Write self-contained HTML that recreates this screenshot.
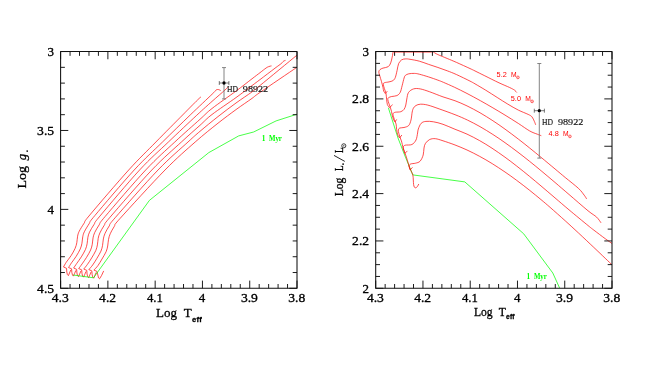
<!DOCTYPE html>
<html><head><meta charset="utf-8"><title>HD 98922 evolutionary tracks</title>
<style>html,body{margin:0;padding:0;background:#fff;}body{width:645px;height:368px;overflow:hidden;font-family:"Liberation Serif",serif;}svg text{white-space:pre;} .k text,text.k{stroke:#000;stroke-width:0.3px;}</style>
</head><body>
<svg width="645" height="368" viewBox="0 0 645 368" style="display:block;will-change:transform">
<rect width="645" height="368" fill="#fff"/>
<clipPath id="cl"><rect x="60.6" y="51.55" width="236.40" height="236.75"/></clipPath>
<clipPath id="cr"><rect x="375.7" y="51.55" width="236.30" height="236.75"/></clipPath>
<path d="M70.80,269.90 L69.50,273.00 L68.40,275.60 L67.40,274.60 L66.80,272.00 L66.50,268.30 L63.50,267.00" fill="none" stroke="#ff0000" stroke-width="0.7" stroke-linejoin="round" stroke-linecap="butt" clip-path="url(#cl)"/>
<path d="M63.50,267.00 C63.95,266.22 64.95,264.17 66.20,262.30 C67.45,260.43 69.52,258.12 71.00,255.80 C72.48,253.48 74.13,250.58 75.10,248.40 C76.07,246.22 76.38,244.73 76.80,242.70 C77.22,240.67 77.20,238.10 77.60,236.20 C78.00,234.30 78.12,233.47 79.20,231.30 C80.28,229.13 82.33,225.92 84.10,223.20 C85.87,220.48 82.37,223.87 89.80,215.00 C97.23,206.13 117.68,182.17 128.70,170.00 C139.72,157.83 146.92,151.17 155.90,142.00 C164.88,132.83 175.67,122.00 182.60,115.00 C189.53,108.00 194.43,103.02 197.50,100.00 C200.57,96.98 200.42,97.42 201.00,96.90" fill="none" stroke="#ff0000" stroke-width="0.7" stroke-linejoin="round" stroke-linecap="butt" clip-path="url(#cl)"/>
<path d="M75.87,270.42 L74.57,273.52 L73.47,276.12 L72.47,275.12 L71.87,272.52 L71.57,268.82 L68.57,267.52" fill="none" stroke="#ff0000" stroke-width="0.7" stroke-linejoin="round" stroke-linecap="butt" clip-path="url(#cl)"/>
<path d="M68.57,267.52 C69.06,266.74 70.23,264.70 71.50,262.83 C72.77,260.97 74.71,258.65 76.17,256.33 C77.63,254.02 79.30,251.13 80.27,248.95 C81.23,246.77 81.54,245.28 81.95,243.25 C82.36,241.22 82.35,238.67 82.75,236.75 C83.15,234.83 83.30,233.89 84.37,231.72 C85.43,229.55 87.38,226.43 89.13,223.73 C90.88,221.04 87.36,224.51 94.87,215.55 C102.38,206.59 122.93,182.26 134.20,170.00 C145.47,157.74 153.17,151.17 162.50,142.00 C171.83,132.83 181.95,122.95 190.20,115.00 C198.45,107.05 207.87,98.27 212.00,94.30 C216.13,90.33 214.23,91.97 215.00,91.20 C215.77,90.43 216.00,89.97 216.60,89.70 C217.20,89.43 217.92,89.47 218.60,89.60 C219.28,89.73 220.35,90.35 220.70,90.50" fill="none" stroke="#ff0000" stroke-width="0.7" stroke-linejoin="round" stroke-linecap="butt" clip-path="url(#cl)"/>
<path d="M80.93,270.93 L79.63,274.03 L78.53,276.63 L77.53,275.63 L76.93,273.03 L76.63,269.33 L73.63,268.03" fill="none" stroke="#ff0000" stroke-width="0.7" stroke-linejoin="round" stroke-linecap="butt" clip-path="url(#cl)"/>
<path d="M73.63,268.03 C74.16,267.26 75.52,265.23 76.80,263.37 C78.08,261.51 79.89,259.18 81.33,256.87 C82.77,254.56 84.47,251.68 85.43,249.50 C86.39,247.32 86.69,245.83 87.10,243.80 C87.51,241.77 87.49,239.24 87.90,237.30 C88.31,235.36 88.49,234.31 89.53,232.13 C90.58,229.96 92.43,226.94 94.17,224.27 C95.90,221.59 92.36,225.14 99.93,216.10 C107.51,207.06 128.19,182.35 139.60,170.00 C151.01,157.65 158.88,151.12 168.40,142.00 C177.92,132.88 189.43,122.07 196.70,115.30 C203.97,108.53 207.28,105.62 212.00,101.40 C216.72,97.18 222.33,92.43 225.00,90.00 C227.67,87.57 227.50,87.33 228.00,86.80" fill="none" stroke="#ff0000" stroke-width="0.7" stroke-linejoin="round" stroke-linecap="butt" clip-path="url(#cl)"/>
<path d="M86.00,271.45 L84.70,274.55 L83.60,277.15 L82.60,276.15 L82.00,273.55 L81.70,269.85 L78.70,268.55" fill="none" stroke="#ff0000" stroke-width="0.7" stroke-linejoin="round" stroke-linecap="butt" clip-path="url(#cl)"/>
<path d="M78.70,268.55 C79.27,267.77 80.80,265.76 82.10,263.90 C83.40,262.04 85.08,259.71 86.50,257.40 C87.92,255.09 89.64,252.23 90.60,250.05 C91.56,247.88 91.84,246.38 92.25,244.35 C92.66,242.32 92.64,239.82 93.05,237.85 C93.46,235.88 93.68,234.73 94.70,232.55 C95.72,230.38 97.48,227.45 99.20,224.80 C100.92,222.15 97.25,225.78 105.00,216.65 C112.75,207.52 134.07,182.44 145.70,170.00 C157.33,157.56 165.75,150.45 174.80,142.00 C183.85,133.55 193.80,124.88 200.00,119.30 C206.20,113.72 206.00,113.20 212.00,108.50 C218.00,103.80 229.33,96.05 236.00,91.10 C242.67,86.15 248.00,81.87 252.00,78.80 C256.00,75.73 257.65,74.50 260.00,72.70 C262.35,70.90 264.60,69.03 266.10,68.00 C267.60,66.97 268.10,66.85 269.00,66.50 C269.90,66.15 271.08,66.00 271.50,65.90" fill="none" stroke="#ff0000" stroke-width="0.7" stroke-linejoin="round" stroke-linecap="butt" clip-path="url(#cl)"/>
<path d="M91.07,271.97 L89.77,275.07 L88.67,277.67 L87.67,276.67 L87.07,274.07 L86.77,270.37 L83.77,269.07" fill="none" stroke="#ff0000" stroke-width="0.7" stroke-linejoin="round" stroke-linecap="butt" clip-path="url(#cl)"/>
<path d="M83.77,269.07 C84.37,268.29 86.08,266.29 87.40,264.43 C88.72,262.58 90.27,260.24 91.67,257.93 C93.06,255.63 94.81,252.77 95.77,250.60 C96.72,248.43 96.99,246.93 97.40,244.90 C97.81,242.87 97.79,240.39 98.20,238.40 C98.61,236.41 98.86,235.14 99.87,232.97 C100.87,230.79 102.53,227.96 104.23,225.33 C105.93,222.71 102.14,226.42 110.07,217.20 C117.99,207.98 139.91,182.53 151.80,170.00 C163.69,157.47 173.37,149.45 181.40,142.00 C189.43,134.55 194.90,129.88 200.00,125.30 C205.10,120.72 206.00,119.12 212.00,114.50 C218.00,109.88 229.33,102.42 236.00,97.60 C242.67,92.78 248.00,88.60 252.00,85.60 C256.00,82.60 256.17,82.50 260.00,79.60 C263.83,76.70 271.45,70.88 275.00,68.20 C278.55,65.52 279.88,64.67 281.30,63.50 C282.72,62.33 282.80,61.72 283.50,61.20 C284.20,60.68 285.17,60.53 285.50,60.40" fill="none" stroke="#ff0000" stroke-width="0.7" stroke-linejoin="round" stroke-linecap="butt" clip-path="url(#cl)"/>
<path d="M96.13,272.48 L94.83,275.58 L93.73,278.18 L92.73,277.18 L92.13,274.58 L91.83,270.88 L88.83,269.58" fill="none" stroke="#ff0000" stroke-width="0.7" stroke-linejoin="round" stroke-linecap="butt" clip-path="url(#cl)"/>
<path d="M88.83,269.58 C89.48,268.81 91.37,266.82 92.70,264.97 C94.03,263.11 95.46,260.77 96.83,258.47 C98.21,256.16 99.98,253.32 100.93,251.15 C101.89,248.98 102.15,247.48 102.55,245.45 C102.95,243.42 102.94,240.96 103.35,238.95 C103.76,236.94 104.05,235.56 105.03,233.38 C106.02,231.20 107.58,228.47 109.27,225.87 C110.95,223.26 107.01,227.06 115.13,217.75 C123.26,208.44 145.86,182.62 158.00,170.00 C170.14,157.38 181.00,148.45 188.00,142.00 C195.00,135.55 195.00,135.53 200.00,131.30 C205.00,127.07 212.00,121.32 218.00,116.60 C224.00,111.88 230.33,107.12 236.00,103.00 C241.67,98.88 248.00,94.82 252.00,91.90 C256.00,88.98 252.52,91.62 260.00,85.50 C267.48,79.38 290.75,60.25 296.90,55.20" fill="none" stroke="#ff0000" stroke-width="0.7" stroke-linejoin="round" stroke-linecap="butt" clip-path="url(#cl)"/>
<path d="M103.70,270.90 L101.50,275.60 L99.50,278.80 L98.50,277.90 L97.90,275.10 L96.80,271.30 L93.90,270.10" fill="none" stroke="#ff0000" stroke-width="0.7" stroke-linejoin="round" stroke-linecap="butt" clip-path="url(#cl)"/>
<path d="M93.90,270.10 C94.58,269.33 96.65,267.35 98.00,265.50 C99.35,263.65 100.65,261.30 102.00,259.00 C103.35,256.70 105.15,253.87 106.10,251.70 C107.05,249.53 107.30,248.03 107.70,246.00 C108.10,243.97 108.08,241.53 108.50,239.50 C108.92,237.47 109.23,235.98 110.20,233.80 C111.17,231.62 112.63,228.98 114.30,226.40 C115.97,223.82 111.75,227.70 120.20,218.30 C128.65,208.90 152.50,182.72 165.00,170.00 C177.50,157.28 186.37,149.80 195.20,142.00 C204.03,134.20 211.20,128.60 218.00,123.20 C224.80,117.80 230.33,113.73 236.00,109.60 C241.67,105.47 248.00,101.27 252.00,98.40 C256.00,95.53 252.52,97.58 260.00,92.40 C267.48,87.22 290.75,71.48 296.90,67.30" fill="none" stroke="#ff0000" stroke-width="0.7" stroke-linejoin="round" stroke-linecap="butt" clip-path="url(#cl)"/>
<path d="M73.10,275.00 L93.50,277.80 L149.40,200.40 L208.80,152.60 L238.70,135.90 L253.60,132.00 L276.10,120.90 L297.00,114.20" fill="none" stroke="#00ff00" stroke-width="0.72" stroke-linejoin="round" stroke-linecap="butt" />
<text x="261.8" y="141.0" font-size="7.4" text-anchor="start" fill="#00ff00" font-family="Liberation Serif, serif" font-weight="bold">1</text>
<text x="269.0" y="141.0" font-size="7.4" text-anchor="start" fill="#00ff00" font-family="Liberation Serif, serif" textLength="12.9" lengthAdjust="spacingAndGlyphs" font-weight="bold">Myr</text>
<path d="M224.0,67.6 V98.9 M222.0,67.6 h4 M222.0,98.9 h4" stroke="#777" stroke-width="0.9" fill="none"/>
<path d="M219.3,83.0 H228.9 M219.3,81.0 v4 M228.9,81.0 v4" stroke="#222" stroke-width="0.6" fill="none"/>
<circle cx="224.0" cy="83.0" r="1.65" fill="#000"/>
<text x="227.0" y="91.5" font-size="9.0" text-anchor="start" fill="#111" font-family="Liberation Serif, serif" textLength="11.0" lengthAdjust="spacingAndGlyphs" stroke="#111" stroke-width="0.15">HD</text>
<text x="242.8" y="91.5" font-size="9.0" text-anchor="start" fill="#111" font-family="Liberation Serif, serif" textLength="25.4" lengthAdjust="spacingAndGlyphs" stroke="#111" stroke-width="0.15">98922</text>
<path d="M388.40,107.80 L391.60,118.00 L398.00,138.00 L404.60,155.00 L412.80,174.90 L464.80,181.90 L523.70,233.80 L552.80,273.00 L559.60,288.00" fill="none" stroke="#00ff00" stroke-width="0.72" stroke-linejoin="round" stroke-linecap="butt" />
<path d="M387.30,91.20 L385.30,93.50 M385.30,93.50 C385.03,93.10 384.08,92.08 383.70,91.10 C383.32,90.12 383.37,89.18 383.00,87.60 C382.63,86.02 382.05,83.60 381.50,81.60 C380.95,79.60 380.15,77.22 379.70,75.60 C379.25,73.98 378.75,72.90 378.80,71.90 C378.85,70.90 379.30,70.23 380.00,69.60 C380.70,68.97 381.63,68.58 383.00,68.10 C384.37,67.62 386.92,67.57 388.20,66.70 C389.48,65.83 390.03,64.52 390.70,62.90 C391.37,61.28 391.80,58.88 392.20,57.00 C392.60,55.12 392.95,52.50 393.10,51.60" fill="none" stroke="#ff0000" stroke-width="0.7" stroke-linejoin="round" stroke-linecap="butt" clip-path="url(#cr)"/>
<path d="M432.80,51.70 C433.65,52.18 435.50,53.46 437.90,54.58 C440.30,55.71 444.10,57.16 447.20,58.47 C450.30,59.77 452.70,60.74 456.50,62.42 C460.30,64.10 466.92,67.13 470.00,68.55 C473.08,69.97 472.53,69.74 475.00,70.95 C477.47,72.16 480.80,73.83 484.80,75.81 C488.80,77.79 494.87,80.87 499.00,82.82 C503.13,84.77 507.00,86.27 509.60,87.50 C512.20,88.73 513.40,89.37 514.60,90.20 C515.80,91.03 516.43,92.12 516.80,92.50" fill="none" stroke="#ff0000" stroke-width="0.7" stroke-linejoin="round" stroke-linecap="butt" clip-path="url(#cr)"/>
<path d="M392.60,104.70 L389.50,107.70 M389.50,107.70 C389.15,107.18 387.88,106.02 387.40,104.60 C386.92,103.18 386.83,101.05 386.60,99.20 C386.37,97.35 386.37,95.27 386.00,93.50 C385.63,91.73 384.85,90.15 384.40,88.60 C383.95,87.05 383.28,85.18 383.30,84.20 C383.32,83.22 383.55,83.08 384.50,82.70 C385.45,82.32 387.58,82.25 389.00,81.90 C390.42,81.55 391.95,81.33 393.00,80.60 C394.05,79.87 394.62,79.20 395.30,77.50 C395.98,75.80 396.55,72.70 397.10,70.40 C397.65,68.10 397.85,65.45 398.60,63.70 C399.35,61.95 400.45,60.70 401.60,59.90 C402.75,59.10 404.10,59.00 405.50,58.90 C406.90,58.80 407.70,58.92 410.00,59.30 C412.30,59.68 416.20,60.32 419.30,61.16 C422.40,62.00 425.50,63.31 428.60,64.36 C431.70,65.40 434.80,66.39 437.90,67.46 C441.00,68.53 444.10,69.60 447.20,70.79 C450.30,71.97 452.70,72.85 456.50,74.57 C460.30,76.29 466.92,79.55 470.00,81.10 C473.08,82.64 472.37,82.31 475.00,83.83 C477.63,85.36 482.10,87.97 485.80,90.24 C489.50,92.51 493.53,95.15 497.20,97.46 C500.87,99.78 504.28,102.03 507.80,104.13 C511.32,106.24 514.90,108.37 518.30,110.08 C521.70,111.80 525.92,113.28 528.20,114.42 C530.48,115.55 530.97,115.72 532.00,116.90 C533.03,118.08 533.78,120.17 534.40,121.50 C535.02,122.83 535.48,124.33 535.70,124.90" fill="none" stroke="#ff0000" stroke-width="0.7" stroke-linejoin="round" stroke-linecap="butt" clip-path="url(#cr)"/>
<path d="M396.70,119.40 L395.00,121.90 M395.00,121.90 C394.75,121.50 393.97,120.62 393.50,119.50 C393.03,118.38 392.53,116.55 392.20,115.20 C391.87,113.85 391.80,112.67 391.50,111.40 C391.20,110.13 390.82,108.87 390.40,107.60 C389.98,106.33 389.43,105.13 389.00,103.80 C388.57,102.47 387.88,100.62 387.80,99.60 C387.72,98.58 387.85,98.22 388.50,97.70 C389.15,97.18 390.30,96.85 391.70,96.50 C393.10,96.15 395.48,96.28 396.90,95.60 C398.32,94.92 399.33,94.03 400.20,92.40 C401.07,90.77 401.45,88.20 402.10,85.80 C402.75,83.40 403.55,79.73 404.10,78.00 C404.65,76.27 404.62,76.10 405.40,75.40 C406.18,74.70 407.28,74.13 408.80,73.80 C410.32,73.47 412.75,73.33 414.50,73.40 C416.25,73.47 416.95,73.61 419.30,74.20 C421.65,74.79 425.50,75.94 428.60,76.93 C431.70,77.92 435.42,79.24 437.90,80.15 C440.38,81.05 440.72,81.18 443.50,82.37 C446.28,83.56 450.68,85.46 454.60,87.31 C458.52,89.15 462.68,91.23 467.00,93.47 C471.32,95.71 476.18,98.36 480.50,100.75 C484.82,103.15 488.82,105.46 492.90,107.85 C496.98,110.24 500.77,112.50 505.00,115.09 C509.23,117.69 514.18,120.79 518.30,123.43 C522.42,126.07 526.53,129.16 529.70,130.96 C532.87,132.75 535.37,133.41 537.30,134.20 C539.23,134.99 540.63,135.45 541.30,135.70" fill="none" stroke="#ff0000" stroke-width="0.7" stroke-linejoin="round" stroke-linecap="butt" clip-path="url(#cr)"/>
<path d="M401.90,135.00 L399.60,137.90 M399.60,137.90 C399.28,137.38 398.20,136.22 397.70,134.80 C397.20,133.38 396.87,131.18 396.60,129.40 C396.33,127.62 396.48,125.78 396.10,124.10 C395.72,122.42 394.82,120.92 394.30,119.30 C393.78,117.68 393.12,115.45 393.00,114.40 C392.88,113.35 393.17,113.37 393.60,113.00 C394.03,112.63 394.40,112.42 395.60,112.20 C396.80,111.98 399.38,112.18 400.80,111.70 C402.22,111.22 403.27,110.42 404.10,109.30 C404.93,108.18 405.35,106.72 405.80,105.00 C406.25,103.28 406.35,101.08 406.80,99.00 C407.25,96.92 407.37,94.18 408.50,92.50 C409.63,90.82 411.65,89.50 413.60,88.90 C415.55,88.30 417.52,88.42 420.20,88.90 C422.88,89.38 425.90,90.47 429.70,91.80 C433.50,93.13 438.78,95.40 443.00,96.89 C447.22,98.38 451.00,99.24 455.00,100.74 C459.00,102.24 462.83,103.89 467.00,105.90 C471.17,107.90 475.68,110.31 480.00,112.78 C484.32,115.26 488.73,118.04 492.90,120.76 C497.07,123.48 500.77,126.06 505.00,129.11 C509.23,132.15 514.18,135.89 518.30,139.05 C522.42,142.21 525.90,145.00 529.70,148.06 C533.50,151.11 536.88,153.89 541.10,157.37 C545.32,160.85 550.98,165.60 555.00,168.95 C559.02,172.30 561.28,174.22 565.20,177.47 C569.12,180.71 575.33,185.47 578.50,188.42 C581.67,191.38 582.83,193.44 584.20,195.20 C585.57,196.96 586.28,198.37 586.70,199.00" fill="none" stroke="#ff0000" stroke-width="0.7" stroke-linejoin="round" stroke-linecap="butt" clip-path="url(#cr)"/>
<path d="M407.40,150.90 L404.90,153.40 M404.90,153.40 C404.65,152.67 403.83,150.48 403.40,149.00 C402.97,147.52 402.63,145.85 402.30,144.50 C401.97,143.15 401.80,142.15 401.40,140.90 C401.00,139.65 400.33,138.28 399.90,137.00 C399.47,135.72 399.07,134.38 398.80,133.20 C398.53,132.02 398.13,130.77 398.30,129.90 C398.47,129.03 398.85,128.40 399.80,128.00 C400.75,127.60 402.52,127.92 404.00,127.50 C405.48,127.08 407.53,126.75 408.70,125.50 C409.87,124.25 410.42,122.25 411.00,120.00 C411.58,117.75 411.78,114.00 412.20,112.00 C412.62,110.00 412.87,109.08 413.50,108.00 C414.13,106.92 414.83,106.13 416.00,105.50 C417.17,104.87 418.53,104.27 420.50,104.20 C422.47,104.13 424.68,104.32 427.80,105.10 C430.92,105.88 434.67,107.30 439.20,108.90 C443.73,110.50 450.30,112.84 455.00,114.69 C459.70,116.55 463.23,118.05 467.40,120.04 C471.57,122.03 475.75,124.24 480.00,126.64 C484.25,129.05 488.73,131.81 492.90,134.48 C497.07,137.15 500.82,139.71 505.00,142.68 C509.18,145.64 513.88,149.13 518.00,152.25 C522.12,155.38 525.85,158.34 529.70,161.42 C533.55,164.50 536.88,167.23 541.10,170.74 C545.32,174.24 550.35,178.50 555.00,182.45 C559.65,186.41 563.50,189.75 569.00,194.46 C574.50,199.18 583.40,206.97 588.00,210.75 C592.60,214.52 594.43,215.09 596.60,217.10 C598.77,219.11 600.27,221.85 601.00,222.80" fill="none" stroke="#ff0000" stroke-width="0.7" stroke-linejoin="round" stroke-linecap="butt" clip-path="url(#cr)"/>
<path d="M412.50,167.30 L410.10,170.00 M410.10,170.00 C409.85,169.10 409.22,166.75 408.60,164.60 C407.98,162.45 407.12,159.33 406.40,157.10 C405.68,154.87 404.83,152.85 404.30,151.20 C403.77,149.55 403.05,148.20 403.20,147.20 C403.35,146.20 403.75,145.65 405.20,145.20 C406.65,144.75 410.10,145.37 411.90,144.50 C413.70,143.63 415.05,141.92 416.00,140.00 C416.95,138.08 417.22,134.83 417.60,133.00 C417.98,131.17 417.70,130.62 418.30,129.00 C418.90,127.38 419.93,124.57 421.20,123.30 C422.47,122.03 423.85,121.65 425.90,121.40 C427.95,121.15 430.65,121.32 433.50,121.80 C436.35,122.28 439.42,123.06 443.00,124.30 C446.58,125.54 451.00,127.62 455.00,129.26 C459.00,130.90 462.88,132.22 467.00,134.12 C471.12,136.02 475.53,138.32 479.70,140.67 C483.87,143.01 487.78,145.43 492.00,148.19 C496.22,150.95 500.88,154.22 505.00,157.20 C509.12,160.17 512.58,162.83 516.70,166.05 C520.82,169.26 525.65,173.18 529.70,176.50 C533.75,179.82 536.78,182.38 541.00,185.95 C545.22,189.51 550.33,193.90 555.00,197.88 C559.67,201.86 563.50,205.21 569.00,209.82 C574.50,214.42 583.87,222.13 588.00,225.51 C592.13,228.88 590.93,227.89 593.80,230.08 C596.67,232.28 602.13,236.41 605.20,238.67 C608.27,240.93 611.03,242.79 612.20,243.62" fill="none" stroke="#ff0000" stroke-width="0.7" stroke-linejoin="round" stroke-linecap="butt" clip-path="url(#cr)"/>
<path d="M418.80,184.00 C418.55,184.43 417.80,185.97 417.30,186.60 C416.80,187.23 416.28,187.70 415.80,187.80 C415.32,187.90 414.77,187.75 414.40,187.20 C414.03,186.65 413.78,185.70 413.60,184.50 C413.42,183.30 413.43,181.62 413.30,180.00 C413.17,178.38 413.23,176.42 412.80,174.80 C412.37,173.18 411.32,171.73 410.70,170.30 C410.08,168.87 409.12,167.25 409.10,166.20 C409.08,165.15 409.53,164.50 410.60,164.00 C411.67,163.50 413.92,163.67 415.50,163.20 C417.08,162.73 418.82,162.57 420.10,161.20 C421.38,159.83 422.55,157.20 423.20,155.00 C423.85,152.80 423.62,149.95 424.00,148.00 C424.38,146.05 424.55,144.72 425.50,143.30 C426.45,141.88 428.05,140.27 429.70,139.50 C431.35,138.73 433.18,138.48 435.40,138.70 C437.62,138.92 439.73,139.75 443.00,140.80 C446.27,141.85 451.00,143.44 455.00,144.97 C459.00,146.51 462.88,148.09 467.00,149.99 C471.12,151.89 475.50,154.10 479.70,156.38 C483.90,158.65 487.98,161.04 492.20,163.64 C496.42,166.25 500.92,169.21 505.00,172.00 C509.08,174.78 512.58,177.30 516.70,180.36 C520.82,183.42 525.65,187.16 529.70,190.37 C533.75,193.58 537.62,196.80 541.00,199.62 C544.38,202.43 545.97,203.76 550.00,207.29 C554.03,210.81 560.45,216.48 565.20,220.76 C569.95,225.05 573.73,228.55 578.50,232.99 C583.27,237.42 589.35,243.18 593.80,247.39 C598.25,251.60 602.13,255.34 605.20,258.27 C608.27,261.20 611.03,263.85 612.20,264.97" fill="none" stroke="#ff0000" stroke-width="0.7" stroke-linejoin="round" stroke-linecap="butt" clip-path="url(#cr)"/>
<text x="526.6" y="278.8" font-size="7.4" text-anchor="start" fill="#00ff00" font-family="Liberation Serif, serif" font-weight="bold">1</text>
<text x="533.9" y="278.8" font-size="7.4" text-anchor="start" fill="#00ff00" font-family="Liberation Serif, serif" textLength="12.9" lengthAdjust="spacingAndGlyphs" font-weight="bold">Myr</text>
<path d="M539.3,63.5 V158.1 M537.3,63.5 h4 M537.3,158.1 h4" stroke="#777" stroke-width="0.9" fill="none"/>
<path d="M534.3,110.7 H544.4 M534.3,108.7 v4 M544.4,108.7 v4" stroke="#222" stroke-width="0.6" fill="none"/>
<circle cx="539.3" cy="110.7" r="1.65" fill="#000"/>
<text x="542.0" y="125.0" font-size="9.0" text-anchor="start" fill="#111" font-family="Liberation Serif, serif" textLength="11.0" lengthAdjust="spacingAndGlyphs" stroke="#111" stroke-width="0.15">HD</text>
<text x="557.9" y="125.0" font-size="9.0" text-anchor="start" fill="#111" font-family="Liberation Serif, serif" textLength="25.4" lengthAdjust="spacingAndGlyphs" stroke="#111" stroke-width="0.15">98922</text>
<text x="496.6" y="77.0" font-size="7.3" fill="#ff0000" font-family="Liberation Sans, sans-serif">5.2</text>
<text x="511.0" y="77.0" font-size="7.3" fill="#ff0000" font-family="Liberation Sans, sans-serif" textLength="5.6" lengthAdjust="spacingAndGlyphs">M</text>
<circle cx="517.9" cy="77.4" r="1.35" fill="none" stroke="#ff0000" stroke-width="0.6"/><circle cx="517.9" cy="77.4" r="0.45" fill="#ff0000"/>
<text x="510.8" y="101.0" font-size="7.3" fill="#ff0000" font-family="Liberation Sans, sans-serif">5.0</text>
<text x="525.2" y="101.0" font-size="7.3" fill="#ff0000" font-family="Liberation Sans, sans-serif" textLength="5.6" lengthAdjust="spacingAndGlyphs">M</text>
<circle cx="532.1" cy="101.4" r="1.35" fill="none" stroke="#ff0000" stroke-width="0.6"/><circle cx="532.1" cy="101.4" r="0.45" fill="#ff0000"/>
<text x="548.6" y="136.0" font-size="7.3" fill="#ff0000" font-family="Liberation Sans, sans-serif">4.8</text>
<text x="563.0" y="136.0" font-size="7.3" fill="#ff0000" font-family="Liberation Sans, sans-serif" textLength="5.6" lengthAdjust="spacingAndGlyphs">M</text>
<circle cx="569.9" cy="136.4" r="1.35" fill="none" stroke="#ff0000" stroke-width="0.6"/><circle cx="569.9" cy="136.4" r="0.45" fill="#ff0000"/>
<rect x="60.6" y="51.55" width="236.40" height="236.75" fill="none" stroke="#111" stroke-width="1.05" stroke-linejoin="round"/>
<path d="M60.60,51.55 v7.7 M60.60,288.3 v-7.7 M70.06,51.55 v4.3 M70.06,288.3 v-4.3 M79.51,51.55 v4.3 M79.51,288.3 v-4.3 M88.97,51.55 v4.3 M88.97,288.3 v-4.3 M98.42,51.55 v4.3 M98.42,288.3 v-4.3 M107.88,51.55 v7.7 M107.88,288.3 v-7.7 M117.34,51.55 v4.3 M117.34,288.3 v-4.3 M126.79,51.55 v4.3 M126.79,288.3 v-4.3 M136.25,51.55 v4.3 M136.25,288.3 v-4.3 M145.70,51.55 v4.3 M145.70,288.3 v-4.3 M155.16,51.55 v7.7 M155.16,288.3 v-7.7 M164.62,51.55 v4.3 M164.62,288.3 v-4.3 M174.07,51.55 v4.3 M174.07,288.3 v-4.3 M183.53,51.55 v4.3 M183.53,288.3 v-4.3 M192.98,51.55 v4.3 M192.98,288.3 v-4.3 M202.44,51.55 v7.7 M202.44,288.3 v-7.7 M211.90,51.55 v4.3 M211.90,288.3 v-4.3 M221.35,51.55 v4.3 M221.35,288.3 v-4.3 M230.81,51.55 v4.3 M230.81,288.3 v-4.3 M240.26,51.55 v4.3 M240.26,288.3 v-4.3 M249.72,51.55 v7.7 M249.72,288.3 v-7.7 M259.18,51.55 v4.3 M259.18,288.3 v-4.3 M268.63,51.55 v4.3 M268.63,288.3 v-4.3 M278.09,51.55 v4.3 M278.09,288.3 v-4.3 M287.54,51.55 v4.3 M287.54,288.3 v-4.3 M297.00,51.55 v7.7 M297.00,288.3 v-7.7 M60.6,51.55 h7.7 M297.0,51.55 h-7.7 M60.6,67.33 h4.3 M297.0,67.33 h-4.3 M60.6,83.12 h4.3 M297.0,83.12 h-4.3 M60.6,98.90 h4.3 M297.0,98.90 h-4.3 M60.6,114.68 h4.3 M297.0,114.68 h-4.3 M60.6,130.47 h7.7 M297.0,130.47 h-7.7 M60.6,146.25 h4.3 M297.0,146.25 h-4.3 M60.6,162.03 h4.3 M297.0,162.03 h-4.3 M60.6,177.82 h4.3 M297.0,177.82 h-4.3 M60.6,193.60 h4.3 M297.0,193.60 h-4.3 M60.6,209.38 h7.7 M297.0,209.38 h-7.7 M60.6,225.17 h4.3 M297.0,225.17 h-4.3 M60.6,240.95 h4.3 M297.0,240.95 h-4.3 M60.6,256.73 h4.3 M297.0,256.73 h-4.3 M60.6,272.52 h4.3 M297.0,272.52 h-4.3 M60.6,288.30 h7.7 M297.0,288.30 h-7.7 " fill="none" stroke="#111" stroke-width="0.95"/>
<rect x="375.7" y="51.55" width="236.30" height="236.75" fill="none" stroke="#111" stroke-width="1.05" stroke-linejoin="round"/>
<path d="M375.70,51.55 v7.7 M375.70,288.3 v-7.7 M385.15,51.55 v4.3 M385.15,288.3 v-4.3 M394.60,51.55 v4.3 M394.60,288.3 v-4.3 M404.06,51.55 v4.3 M404.06,288.3 v-4.3 M413.51,51.55 v4.3 M413.51,288.3 v-4.3 M422.96,51.55 v7.7 M422.96,288.3 v-7.7 M432.41,51.55 v4.3 M432.41,288.3 v-4.3 M441.86,51.55 v4.3 M441.86,288.3 v-4.3 M451.32,51.55 v4.3 M451.32,288.3 v-4.3 M460.77,51.55 v4.3 M460.77,288.3 v-4.3 M470.22,51.55 v7.7 M470.22,288.3 v-7.7 M479.67,51.55 v4.3 M479.67,288.3 v-4.3 M489.12,51.55 v4.3 M489.12,288.3 v-4.3 M498.58,51.55 v4.3 M498.58,288.3 v-4.3 M508.03,51.55 v4.3 M508.03,288.3 v-4.3 M517.48,51.55 v7.7 M517.48,288.3 v-7.7 M526.93,51.55 v4.3 M526.93,288.3 v-4.3 M536.38,51.55 v4.3 M536.38,288.3 v-4.3 M545.84,51.55 v4.3 M545.84,288.3 v-4.3 M555.29,51.55 v4.3 M555.29,288.3 v-4.3 M564.74,51.55 v7.7 M564.74,288.3 v-7.7 M574.19,51.55 v4.3 M574.19,288.3 v-4.3 M583.64,51.55 v4.3 M583.64,288.3 v-4.3 M593.10,51.55 v4.3 M593.10,288.3 v-4.3 M602.55,51.55 v4.3 M602.55,288.3 v-4.3 M612.00,51.55 v7.7 M612.00,288.3 v-7.7 M375.7,51.55 h7.7 M612.0,51.55 h-7.7 M375.7,63.39 h4.3 M612.0,63.39 h-4.3 M375.7,75.22 h4.3 M612.0,75.22 h-4.3 M375.7,87.06 h4.3 M612.0,87.06 h-4.3 M375.7,98.90 h7.7 M612.0,98.90 h-7.7 M375.7,110.74 h4.3 M612.0,110.74 h-4.3 M375.7,122.58 h4.3 M612.0,122.58 h-4.3 M375.7,134.41 h4.3 M612.0,134.41 h-4.3 M375.7,146.25 h7.7 M612.0,146.25 h-7.7 M375.7,158.09 h4.3 M612.0,158.09 h-4.3 M375.7,169.93 h4.3 M612.0,169.93 h-4.3 M375.7,181.76 h4.3 M612.0,181.76 h-4.3 M375.7,193.60 h7.7 M612.0,193.60 h-7.7 M375.7,205.44 h4.3 M612.0,205.44 h-4.3 M375.7,217.27 h4.3 M612.0,217.27 h-4.3 M375.7,229.11 h4.3 M612.0,229.11 h-4.3 M375.7,240.95 h7.7 M612.0,240.95 h-7.7 M375.7,252.79 h4.3 M612.0,252.79 h-4.3 M375.7,264.62 h4.3 M612.0,264.62 h-4.3 M375.7,276.46 h4.3 M612.0,276.46 h-4.3 M375.7,288.30 h7.7 M612.0,288.30 h-7.7 " fill="none" stroke="#111" stroke-width="0.95"/>
<path d="M393.6,52.349999999999994 H431.8" fill="none" stroke="#ff0000" stroke-width="0.45" stroke-linejoin="round" stroke-linecap="butt" />
<text class="k" x="51.80" y="302.4" font-size="11.8" text-anchor="start" fill="#000" font-family="Liberation Serif, serif" textLength="17.0" lengthAdjust="spacingAndGlyphs" >4.3</text>
<text class="k" x="366.90" y="302.4" font-size="11.8" text-anchor="start" fill="#000" font-family="Liberation Serif, serif" textLength="17.0" lengthAdjust="spacingAndGlyphs" >4.3</text>
<text class="k" x="99.08" y="302.4" font-size="11.8" text-anchor="start" fill="#000" font-family="Liberation Serif, serif" textLength="17.0" lengthAdjust="spacingAndGlyphs" >4.2</text>
<text class="k" x="414.16" y="302.4" font-size="11.8" text-anchor="start" fill="#000" font-family="Liberation Serif, serif" textLength="17.0" lengthAdjust="spacingAndGlyphs" >4.2</text>
<text class="k" x="146.91" y="302.4" font-size="11.8" text-anchor="start" fill="#000" font-family="Liberation Serif, serif" textLength="15.9" lengthAdjust="spacingAndGlyphs" >4.1</text>
<text class="k" x="461.97" y="302.4" font-size="11.8" text-anchor="start" fill="#000" font-family="Liberation Serif, serif" textLength="15.9" lengthAdjust="spacingAndGlyphs" >4.1</text>
<text class="k" x="198.89" y="302.4" font-size="11.8" text-anchor="start" fill="#000" font-family="Liberation Serif, serif" textLength="6.5" lengthAdjust="spacingAndGlyphs" >4</text>
<text class="k" x="513.93" y="302.4" font-size="11.8" text-anchor="start" fill="#000" font-family="Liberation Serif, serif" textLength="6.5" lengthAdjust="spacingAndGlyphs" >4</text>
<text class="k" x="240.92" y="302.4" font-size="11.8" text-anchor="start" fill="#000" font-family="Liberation Serif, serif" textLength="17.0" lengthAdjust="spacingAndGlyphs" >3.9</text>
<text class="k" x="555.94" y="302.4" font-size="11.8" text-anchor="start" fill="#000" font-family="Liberation Serif, serif" textLength="17.0" lengthAdjust="spacingAndGlyphs" >3.9</text>
<text class="k" x="288.20" y="302.4" font-size="11.8" text-anchor="start" fill="#000" font-family="Liberation Serif, serif" textLength="17.0" lengthAdjust="spacingAndGlyphs" >3.8</text>
<text class="k" x="603.20" y="302.4" font-size="11.8" text-anchor="start" fill="#000" font-family="Liberation Serif, serif" textLength="17.0" lengthAdjust="spacingAndGlyphs" >3.8</text>
<text class="k" x="47.60" y="55.85" font-size="11.8" text-anchor="start" fill="#000" font-family="Liberation Serif, serif" textLength="6.5" lengthAdjust="spacingAndGlyphs" >3</text>
<text class="k" x="37.10" y="134.77" font-size="11.8" text-anchor="start" fill="#000" font-family="Liberation Serif, serif" textLength="17.0" lengthAdjust="spacingAndGlyphs" >3.5</text>
<text class="k" x="47.60" y="213.68" font-size="11.8" text-anchor="start" fill="#000" font-family="Liberation Serif, serif" textLength="6.5" lengthAdjust="spacingAndGlyphs" >4</text>
<text class="k" x="37.10" y="292.60" font-size="11.8" text-anchor="start" fill="#000" font-family="Liberation Serif, serif" textLength="17.0" lengthAdjust="spacingAndGlyphs" >4.5</text>
<text class="k" x="362.60" y="55.85" font-size="11.8" text-anchor="start" fill="#000" font-family="Liberation Serif, serif" textLength="6.5" lengthAdjust="spacingAndGlyphs" >3</text>
<text class="k" x="352.10" y="103.20" font-size="11.8" text-anchor="start" fill="#000" font-family="Liberation Serif, serif" textLength="17.0" lengthAdjust="spacingAndGlyphs" >2.8</text>
<text class="k" x="352.10" y="150.55" font-size="11.8" text-anchor="start" fill="#000" font-family="Liberation Serif, serif" textLength="17.0" lengthAdjust="spacingAndGlyphs" >2.6</text>
<text class="k" x="352.10" y="197.90" font-size="11.8" text-anchor="start" fill="#000" font-family="Liberation Serif, serif" textLength="17.0" lengthAdjust="spacingAndGlyphs" >2.4</text>
<text class="k" x="352.10" y="245.25" font-size="11.8" text-anchor="start" fill="#000" font-family="Liberation Serif, serif" textLength="17.0" lengthAdjust="spacingAndGlyphs" >2.2</text>
<text class="k" x="362.60" y="292.60" font-size="11.8" text-anchor="start" fill="#000" font-family="Liberation Serif, serif" textLength="6.5" lengthAdjust="spacingAndGlyphs" >2</text>
<text class="k" x="156.1" y="317.4" font-size="13" font-family="Liberation Serif, serif" fill="#000">Log<tspan dx="6.6">T</tspan><tspan font-size="7.6" font-weight="bold" dy="4.2" dx="0.3" letter-spacing="0.25" font-family="Liberation Sans, sans-serif">eff</tspan></text>
<text class="k" x="473.9" y="316.1" font-size="11.6" font-family="Liberation Serif, serif" fill="#000">Log<tspan dx="6.2">T</tspan><tspan font-size="6.6" font-weight="bold" dy="3.2" dx="0.2" letter-spacing="0.2" font-family="Liberation Sans, sans-serif">eff</tspan></text>
<g class="k" transform="translate(26.3,188.6) rotate(-90)" font-family="Liberation Serif, serif" fill="#000"><text x="0.2" y="0" font-size="12.9" textLength="22.5" lengthAdjust="spacingAndGlyphs">Log</text><text x="28.4" y="0" font-size="12.9" font-style="italic">g</text><circle cx="37.5" cy="0.9" r="0.85"/></g>
<g class="k" transform="translate(342.9,196.8) rotate(-90)" font-family="Liberation Serif, serif" fill="#000"><text x="0.5" y="0" font-size="11.6">Log</text><text x="25.9" y="0" font-size="11.6" textLength="5.6" lengthAdjust="spacingAndGlyphs">L</text><circle cx="32.7" cy="0.2" r="0.9"/><path d="M35.4,1.9 L41.4,-8.9" stroke="#000" stroke-width="0.85" fill="none"/><text x="43.9" y="0" font-size="11.6" textLength="5.6" lengthAdjust="spacingAndGlyphs">L</text><circle cx="51.0" cy="0.9" r="2.05" fill="none" stroke="#000" stroke-width="0.75"/><circle cx="51.0" cy="0.9" r="0.65"/></g>
</svg>
</body></html>
